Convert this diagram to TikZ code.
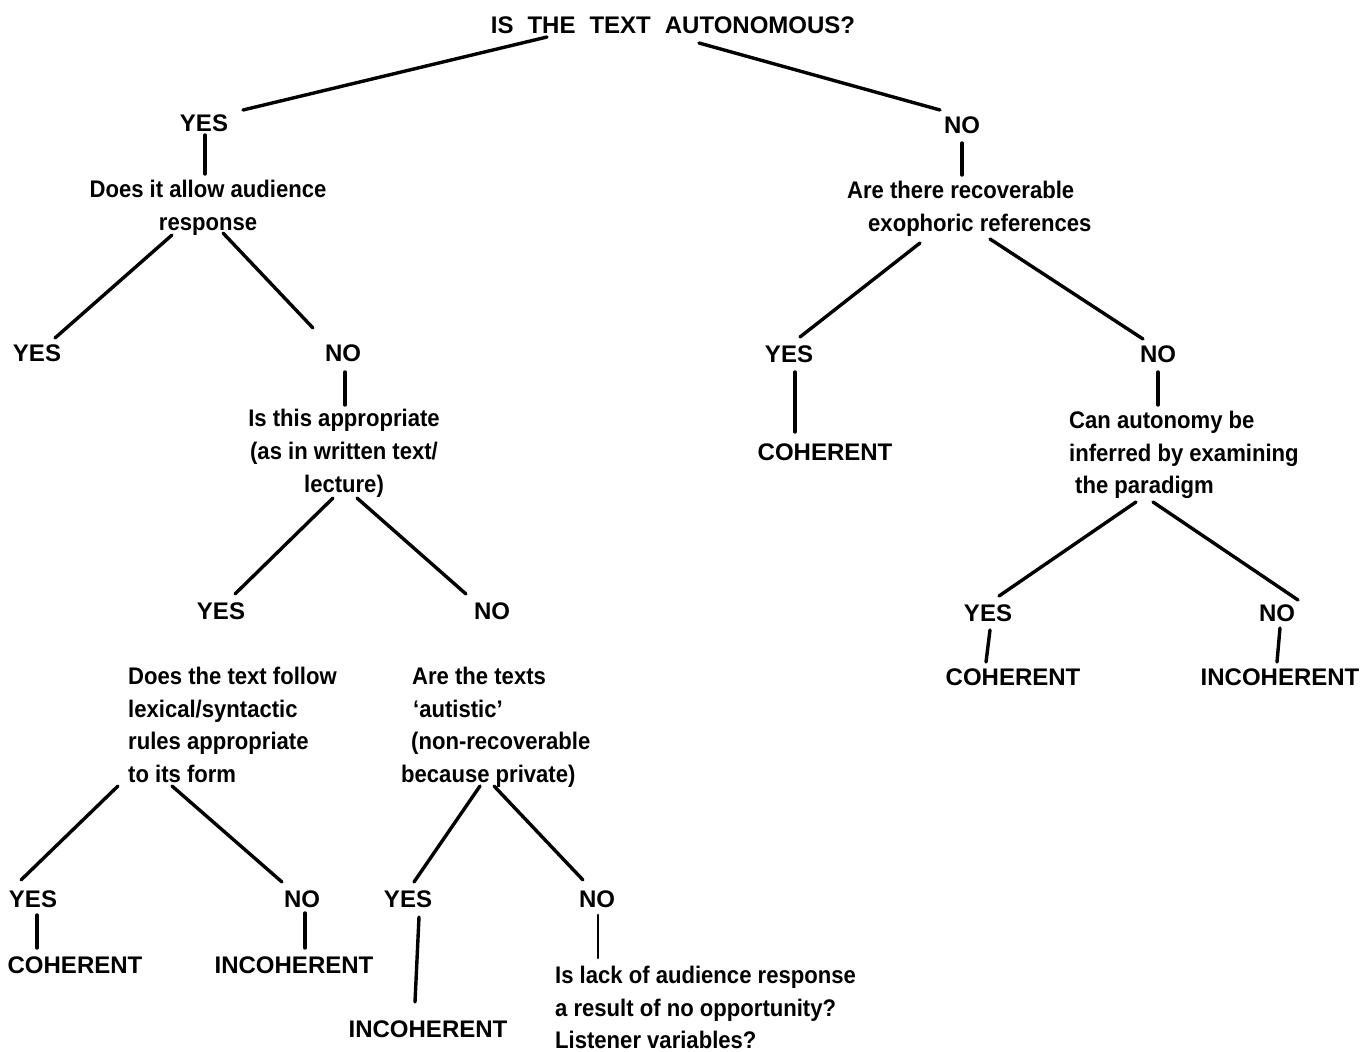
\documentclass[tikz,border=0pt]{standalone}
\usepackage{fontspec}
\usetikzlibrary{calc}
\newfontfamily\capsfont{Liberation Sans}[BoldFont={* Bold}]
\newfontfamily\txtfont{Liberation Sans}[FakeStretch=0.92,BoldFont={* Bold}]
\begin{document}
\begin{tikzpicture}[x=1pt,y=-1pt,
  lab/.style={font={\capsfont\bfseries\fontsize{24}{33}\selectfont},inner sep=0pt,anchor=base},
  qc/.style={font={\txtfont\bfseries\fontsize{24}{33}\selectfont},inner sep=0pt,align=center,anchor=north},
  ql/.style={font={\txtfont\bfseries\fontsize{24}{32.5}\selectfont},inner sep=0pt,align=left,anchor=north west},
  edge/.style={line width=3.4pt,line cap=round}]
\fill[white] (0,0) rectangle (1363,1052);
\useasboundingbox (0,0) rectangle (1363,1052);

% nodes
\node[lab] (T) at (673,33) {IS\hspace{14pt}THE\hspace{14pt}TEXT\hspace{14pt}AUTONOMOUS?};
\node[lab] (Y1) at (204,131) {YES};
\node[lab] (N1) at (962,133) {NO};
\node[qc] (Q1) at (208,180) {Does it allow audience\\response};
\node[lab] (Y2) at (37,361) {YES};
\node[lab] (N2) at (343,361) {NO};
\node[qc] (Q2) at (344,409) {Is this appropriate\\(as in written text/\\lecture)};
\node[lab] (Y3) at (221,619) {YES};
\node[lab] (N3) at (492,619) {NO};
\node[ql] (Q3) at (128,667) {Does the text follow\\lexical/syntactic\\rules appropriate\\to its form};
\node[ql] (Q4) at (401,667) {\hspace*{11pt}Are the texts\\\hspace*{12pt}‘autistic’\\\hspace*{10pt}(non-recoverable\\because private)};
\node[lab] (Y4) at (33,907) {YES};
\node[lab] (N4) at (302,907) {NO};
\node[lab] (C1) at (75,973) {COHERENT};
\node[lab] (I1) at (294,973) {INCOHERENT};
\node[lab] (Y5) at (408,907) {YES};
\node[lab] (N5) at (597,907) {NO};
\node[lab] (I2) at (428,1037) {INCOHERENT};
\node[ql] (Q5) at (555,966) {Is lack of audience response\\a result of no opportunity?\\Listener variables?};
\node[ql] (Q6) at (847,181) {Are there recoverable\\\hspace*{21pt}exophoric references};
\node[lab] (Y6) at (789,362) {YES};
\node[lab] (N6) at (1158,362) {NO};
\node[lab] (C2) at (825,460) {COHERENT};
\node[ql] (Q7) at (1069,411) {Can autonomy be\\inferred by examining\\\hspace*{6pt}the paradigm};
\node[lab] (Y7) at (988,621) {YES};
\node[lab] (N7) at (1277,621) {NO};
\node[lab] (C3) at (1013,685) {COHERENT};
\node[lab] (I3) at (1280,685) {INCOHERENT};

% connectors
\draw[edge] ($(T.base)+(-126,4)$) -- ($(Y1.base)+(39,-21)$);
\draw[edge] ($(T.base)+(26,10)$) -- ($(N1.base)+(-22,-23)$);
\draw[edge] ($(Y1.base)+(1,4)$) -- ($(Q1.north)+(-3,-6)$);
\draw[edge] ($(Q1.north)+(-36,55)$) -- ($(Y2.base)+(18,-23)$);
\draw[edge] ($(Q1.north)+(15,53)$) -- ($(N2.base)+(-30,-33)$);
\draw[edge] ($(N2.base)+(2,11)$) -- ($(Q2.north)+(1,-4)$);
\draw[edge] ($(Q2.north)+(-11,89)$) -- ($(Y3.base)+(14,-25)$);
\draw[edge] ($(Q2.north)+(13,89)$) -- ($(N3.base)+(-26,-25)$);
\draw[edge] ($(Q3.north west)+(-10,119)$) -- ($(Y4.base)+(-12,-27)$);
\draw[edge] ($(Q3.north west)+(44,119)$) -- ($(N4.base)+(-20,-25)$);
\draw[edge] ($(Y4.base)+(4,8)$) -- ($(C1.base)+(-38,-25)$);
\draw[edge] ($(N4.base)+(3,6)$) -- ($(I1.base)+(11,-25)$);
\draw[edge] ($(Q4.north west)+(79,119)$) -- ($(Y5.base)+(6,-25)$);
\draw[edge] ($(Q4.north west)+(93,119)$) -- ($(N5.base)+(-14,-27)$);
\draw[edge] ($(Y5.base)+(11,10)$) -- ($(I2.base)+(-13,-35)$);
\draw[edge,line width=2.6pt] ($(N5.base)+(1,8)$) -- ($(Q5.north west)+(43,-8)$);
\draw[edge] ($(N1.base)+(0,10)$) -- ($(Q6.north west)+(115,-6)$);
\draw[edge] ($(Q6.north west)+(73,62)$) -- ($(Y6.base)+(11,-25)$);
\draw[edge] ($(Q6.north west)+(143,58)$) -- ($(N6.base)+(-15,-23)$);
\draw[edge] ($(Y6.base)+(6,10)$) -- ($(C2.base)+(-30,-28)$);
\draw[edge] ($(N6.base)+(0,10)$) -- ($(Q7.north west)+(89,-6)$);
\draw[edge] ($(Q7.north west)+(67,91)$) -- ($(Y7.base)+(11,-25)$);
\draw[edge] ($(Q7.north west)+(84,91)$) -- ($(N7.base)+(21,-21)$);
\draw[edge] ($(Y7.base)+(2,9)$) -- ($(C3.base)+(-27,-23)$);
\draw[edge] ($(N7.base)+(3,7)$) -- ($(I3.base)+(-3,-23)$);
\end{tikzpicture}
\end{document}
